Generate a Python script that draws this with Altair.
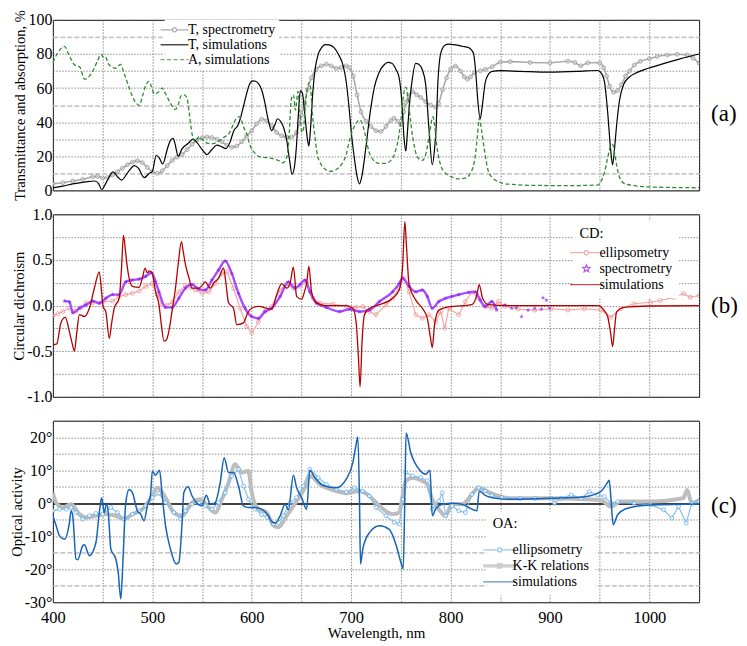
import math
import altair as alt
import pandas as pd

FONT = "Liberation Serif"
W = 648
H_A, H_B, H_C = 171, 183, 182

# ---------------- panel (a): transmittance / absorption, % ----------------
T_SPEC_NM = [400, 410, 420, 430, 440, 445, 450, 455, 460, 465, 470, 475, 480, 485, 490, 495, 500, 505, 510, 515,
             520, 525, 530, 535, 540, 545, 550, 555, 560, 565, 570, 575, 580, 585, 590, 595, 600, 605, 610, 615,
             620, 625, 630, 635, 640, 645, 650, 653, 656, 660, 665, 670, 675, 680, 685, 690, 695, 698, 702, 706,
             710, 715, 720, 725, 730, 735, 740, 743, 747, 750, 753, 755, 758, 762, 766, 770, 775, 780, 785, 788,
             792, 796, 800, 805, 810, 814, 817, 820, 824, 830, 835, 842, 850, 860, 880, 900, 918, 925, 931, 938,
             950, 954, 957, 960, 964, 968, 972, 976, 980, 985, 991, 1000, 1008, 1018, 1028, 1038, 1044, 1050]
T_SPEC = [3.9, 4.5, 5.5, 6.5, 8, 8.2, 7.3, 7.5, 9, 11, 13, 15, 16.5, 17.3, 16.3, 13.5, 11, 10, 11.5, 14.5,
          17.5, 19.5, 21, 24, 27, 29.5, 30.8, 31.3, 31, 30, 28.5, 26.5, 25.3, 26, 28.5, 32, 35, 39, 41.7, 40.8,
          38, 34, 32, 31.3, 31.3, 34, 44, 51, 59, 66, 71, 73, 74, 73, 71.5, 72, 73, 72, 67, 56,
          46, 40.5, 37.5, 35, 34.5, 37.5, 41, 42.3, 40.5, 38.7, 46, 51.5, 55.5, 57.9, 56, 54.5, 52, 50, 48.7, 51,
          59, 66, 71, 72.9, 70, 66.5, 65.2, 66.5, 69, 70.1, 71, 72.5, 75.2, 75.5, 75, 74.8, 75.7, 75, 73, 74.8,
          74.8, 72, 67, 61, 57.5, 58.5, 62, 67, 70, 73.5, 75.7, 77.2, 78.5, 79.3, 79.8, 79.4, 77.5, 74.5]

T_SIM_NM = [400, 410, 420, 433, 442, 446, 449, 454, 460.5, 465, 469, 476, 482, 486, 492, 497, 500, 504, 507, 510.5,
            515, 518, 521, 523, 526, 530, 536, 541, 545, 550, 555, 560, 565, 570, 574, 578, 582, 586, 589, 592,
            595, 598, 601, 604, 607, 610, 613, 616, 620, 623, 626, 629, 632, 635, 638, 640.5, 643, 645, 647, 649,
            651, 653.5, 656, 657.5, 659, 661.5, 664, 667, 670, 674, 678, 683, 687, 691.8, 695, 698, 700, 703, 706, 708.5,
            711, 715, 719, 723.4, 728, 733, 737, 741, 745, 748.3, 751, 753.3, 755, 756.5, 758.3, 761, 765, 768, 771.6, 775,
            778.3, 781.6, 784, 785.5, 787, 790, 794, 798, 805, 812, 818, 823, 825.5, 827.5, 829.8, 832, 834.8, 838, 842, 850,
            870, 900, 930, 948, 952, 955, 958, 961, 963, 965, 967, 970, 974, 980, 985, 995, 1001, 1015, 1030, 1050]
T_SIM = [1.5, 2.5, 3.8, 5, 5.5, 4, 0.5, 5, 10.8, 8, 6, 11, 14.5, 13, 7.5, 10, 11, 20.6, 19, 15.5,
         24, 29, 30.5, 27, 20, 24.5, 27.5, 30, 28, 24, 21, 24, 26.5, 25.5, 24.5, 28, 35, 38, 43, 50,
         57, 62.5, 64.2, 64, 62.5, 59, 52, 43, 35, 38, 42, 40.5, 37, 30, 18, 9.5, 14, 26, 45, 58.5,
         57, 44, 30, 26, 35, 58, 72, 80, 83.5, 85.5, 85.3, 83.5, 80, 73.4, 64, 48, 35, 20, 8, 3.8,
         9, 26, 45, 60.6, 69, 73.5, 75, 74.5, 71, 66, 52, 30, 23, 33, 48, 63, 74.5, 74, 70.7, 62,
         36, 15, 25, 37, 60, 80, 85, 85.7, 85.3, 84.5, 83.8, 80.5, 68, 52, 42, 50, 63, 68, 69.8, 70.2,
         69.8, 69.3, 69.8, 70.3, 68.5, 63, 46, 24, 15, 25, 38, 53, 62, 66.5, 68.4, 70.8, 72, 74.5, 77, 80]

A_SIM_NM = [400, 405, 411.5, 416.5, 421.5, 427, 432, 436, 440, 445, 448.5, 451, 453, 456, 459, 463, 468, 472, 476.5, 480,
            484, 487, 490, 493, 496.5, 499, 502, 506, 510, 513, 517, 521, 523.5, 526, 529, 532, 535, 537, 540, 543,
            547, 551, 555, 559, 563, 567, 570, 574, 577, 581, 585, 588.3, 590, 592, 595, 598.6, 603, 608.6, 615, 622,
            627, 631, 634, 637, 640, 642, 644, 646.5, 648.5, 650.5, 652, 654, 656, 657.8, 659.5, 661, 663.5, 666, 670, 675,
            680, 685, 690, 695, 698.4, 702, 706, 708.4, 711, 714, 718, 722, 728, 734, 740, 744, 748.3, 751, 753, 755,
            757, 759.5, 762, 765, 768, 771.6, 775, 778.3, 782.3, 784, 786, 790, 795, 800, 808, 815, 820, 824.9, 827, 828.8,
            831, 834, 838, 842, 846, 852, 860, 885, 920, 948, 952, 955, 958, 961, 963, 965, 967, 970, 975, 985,
            1000, 1050]
A_SIM = [75, 80.7, 84.4, 79, 73.8, 72.3, 65.2, 66.5, 69.8, 76, 79.8, 78, 78.2, 74, 72.5, 71.6, 73.8, 68, 60.6, 55,
         51, 49.8, 55, 61, 63.9, 61, 56.5, 57.5, 60, 57, 52.5, 48.5, 47.5, 50, 55.5, 56, 54, 46, 33, 28.5,
         31.5, 29.5, 27.7, 27.3, 27.7, 29, 30.4, 31.8, 33.2, 38, 42.6, 43.2, 40.5, 37, 33, 26, 22, 19.6, 19.2, 18.5,
         17.5, 16.2, 17.5, 27, 54, 56, 47, 58, 45, 34, 36, 50, 60, 63.2, 58, 45, 32, 21, 15, 12,
         11.2, 12.2, 14.9, 21, 29.5, 36, 40, 41.4, 39.5, 33, 22.5, 18, 15.8, 15.8, 17.6, 22, 33.2, 46, 57, 60.6,
         55, 42, 31, 22.2, 18.5, 17.6, 21, 31.3, 43.2, 38, 27, 14.9, 10, 8.2, 6.7, 7.2, 10, 20.4, 32, 42.3,
         36, 24, 11.2, 7.5, 5.7, 4.2, 3.6, 2.9, 2.8, 3.1, 6, 11, 19, 26, 27, 22, 15, 7.5, 4, 2.8,
         2, 1.5]

# ---------------- panel (b): circular dichroism ----------------
CD_ELL_NM = [400, 405, 410, 416.7, 423.3, 428, 433.3, 440, 450, 460, 466.7, 473.3, 480, 486.7, 493.3, 500, 505, 510, 515, 520,
             526.7, 533.3, 538, 543.3, 550, 556.7, 563.3, 570, 575, 581.7, 588.3, 595, 600, 606.7, 613.3, 620, 628.6, 635.2, 641.9, 648.5,
             655.2, 661.8, 668.5, 681.8, 695.1, 705, 711.7, 718.4, 725, 735, 741.7, 748.3, 753.3, 758.3, 765, 771.6, 778.3, 785, 790, 794.2,
             798.2, 808.2, 814.9, 821.5, 828.2, 834.8, 841.5, 848.1, 854.8, 868, 884.6, 901.3, 918, 934.6, 951.3, 961, 971, 984.5, 1001, 1011,
             1024.4, 1034.4, 1041, 1050]
CD_ELL = [-0.11, -0.09, -0.066, -0.03, -0.06, -0.02, 0.026, 0.03, 0.044, 0.05, 0.1, 0.12, 0.135, 0.16, 0.21, 0.24, 0.12, 0.007, 0.005, 0.04,
          0.15, 0.22, 0.2, 0.17, 0.135, 0.15, 0.24, 0.35, 0.37, 0.19, -0.03, -0.23, -0.3, -0.18, -0.066, -0.01, 0.17, 0.24, 0.19, 0.21,
          0.26, 0.08, 0.026, 0.015, -0.01, -0.02, -0.01, -0.066, -0.1, 0.007, 0.08, 0.19, 0.3, 0.15, -0.1, -0.14, -0.1, -0.18, -0.066, -0.25,
          -0.03, -0.1, 0.044, 0.15, 0.08, -0.01, -0.03, 0.044, -0.01, -0.04, -0.05, -0.035, -0.05, -0.035, -0.05, -0.13, -0.035, 0.02, 0.035, 0.055,
          0.09, 0.13, 0.09, 0.11]

CD_SPEC_NM = [411.7, 416.7, 420, 426.7, 433.3, 440, 446.7, 453.3, 460, 466.7, 473.3, 480, 486.7, 493.3, 499.3, 503.3, 506.7, 513.3, 520, 526.7,
              533.3, 540, 546.7, 553.3, 560, 566.7, 573.3, 580, 586.7, 593.3, 600, 606.7, 613.3, 620, 628.6, 636.9, 643.5, 648.5, 653.5, 658.5,
              665.2, 675.1, 688.4, 698.4, 708.4, 718.4, 728.4, 741.7, 748.3, 751.7, 758.3, 765, 771.6, 776.6, 781.6, 788.2, 794.9, 801.5, 808.2, 818.2,
              824.9, 829.8, 834.8, 841.5, 846.4, 854.8, 861.4, 866, 871.4, 878, 884.6, 891.3, 893, 896.3, 899.6]
CD_SPEC = [0.05, 0.04, -0.08, -0.03, 0.007, 0.05, 0.025, 0.08, 0.12, 0.12, 0.26, 0.28, 0.29, 0.32, 0.36, 0.26, 0.15, -0.02, -0.02, 0.08,
           0.19, 0.23, 0.18, 0.17, 0.28, 0.39, 0.49, 0.35, 0.135, -0.03, -0.12, -0.14, -0.066, -0.03, 0.1, 0.26, 0.19, 0.23, 0.28, 0.15,
           0.026, -0.02, -0.066, -0.04, -0.066, -0.05, 0.044, 0.15, 0.24, 0.3, 0.21, 0.15, 0.17, 0.1, -0.03, 0.044, 0.08, 0.1, 0.12, 0.145,
           0.15, 0.06, -0.01, 0.044, -0.05, 0.007, -0.03, -0.02, -0.12, -0.05, -0.03, -0.04, 0.085, 0.06, -0.03]
CD_SPEC_DENSE_END = 846.4   # beyond this wavelength the stars are sparse and not joined

CD_SIM_NM = [400, 404, 408, 412.5, 416.5, 419.5, 421.7, 424, 426.7, 431.7, 436.7, 441.7, 446.7, 449, 450.5, 453.3, 456.7, 459, 461.7, 466.7,
             469, 471, 473, 475, 480, 486.7, 490, 492.7, 495, 497, 500, 503.3, 506.7, 509, 511.7, 514, 516.7, 520, 523.3, 526,
             529.3, 531, 533.3, 537, 540, 546.7, 550, 553.3, 558.3, 562, 566.7, 571.7, 574, 576.7, 581.7, 585, 591.7, 596, 600, 606.7,
             620, 625.2, 630.2, 635.2, 638.5, 641.9, 645.2, 650.2, 653, 655.2, 657.5, 660.2, 665.2, 675, 695, 701.7, 705, 707.4, 709, 711,
             713.4, 718.4, 728.4, 741.7, 748.3, 751.7, 754, 755.6, 758.3, 765, 771.6, 776.6, 779.9, 781.6, 783.9, 788.2, 798.2, 821.5, 826.5, 828.8,
             832.2, 838, 858, 948, 955, 958, 961, 963, 965, 967, 974.6, 1000, 1050]
CD_SIM = [-0.43, -0.42, -0.19, -0.13, -0.28, -0.42, -0.5, -0.3, -0.1, -0.12, -0.03, 0.19, 0.37, 0.15, -0.01, -0.07, -0.36, -0.2, -0.03, 0.08,
          0.4, 0.77, 0.6, 0.41, 0.21, 0.2, 0.3, 0.41, 0.36, 0.38, 0.35, 0.15, 0.01, -0.2, -0.39, -0.38, -0.28, -0.05, 0.19, 0.45,
          0.7, 0.6, 0.45, 0.3, 0.19, 0.19, 0.22, 0.26, 0.19, 0.25, 0.3, 0.41, 0.25, 0.03, -0.03, -0.21, -0.19, -0.08, -0.03, -0.01,
          -0.04, 0.12, 0.24, 0.19, 0.24, 0.42, 0.1, 0.07, 0.15, 0.24, 0.43, 0.15, 0.03, 0, 0, -0.03, -0.18, -0.58, -0.89, -0.39,
          -0.1, -0.03, 0.01, 0.08, 0.17, 0.41, 0.92, 0.66, 0.23, 0.06, -0.03, -0.14, -0.36, -0.46, -0.21, -0.05, -0.015, 0.01, 0.12, 0.23,
          0.08, 0.01, 0, 0, -0.06, -0.12, -0.3, -0.45, -0.25, -0.07, -0.02, -0.005, 0]

# ---------------- panel (c): optical activity, degrees ----------------
OA_ELL_NM = [400, 406.7, 413.3, 418.3, 423.3, 430, 436.7, 443.3, 450, 458.3, 465, 471.7, 480, 486.7, 493.3, 500, 506.7, 513.3, 521.7, 528.3,
             533.3, 540, 546.7, 553.3, 560, 566.7, 573.3, 580, 586.7, 591.7, 596.7, 603.3, 610, 615.3, 621.9, 626.9, 631.9, 638.5, 645.2, 651.8,
             658.5, 666.8, 675.1, 685.1, 695.1, 703.4, 711.7, 718.4, 725, 735, 743.3, 748.3, 752.3, 755, 761.6, 770, 776.6, 781.6, 788.2, 791.6,
             795, 801.5, 808.2, 814.9, 821.5, 828.2, 834.8, 841.5, 851.5, 870, 884.6, 901.3, 904.6, 911.3, 921.3, 931.3, 939.6, 948, 954.6, 961.3,
             968, 984.6, 1001, 1014.3, 1022.6, 1029.3, 1037, 1042.6, 1050]
OA_ELL = [-2.3, -1.8, -1.8, -1.3, -2.8, -4.8, -3.8, -3.1, -3.3, -1.3, -2.8, -4.8, -3.3, -2.3, -0.8, 1.7, 3, 0.2, -2.8, -4.8,
          -2.3, -0.3, 0, -0.8, -1.8, 0.2, 3.2, 8.3, 10.3, 5.2, 1.2, -1.8, -3.5, -4.3, -6.3, -5.8, -3.8, 0.2, 1.7, 5.2,
          10.3, 7.8, 5.7, 4.2, 3.4, 4.7, 3.7, 2.2, -1.3, -3.8, -5.8, -6.3, 1.2, 9.3, 8.3, 7.8, 6.8, -1.8, 0.7, 3.2,
          -3.8, -0.8, -2.3, -2.8, 2.7, 4.7, 3.7, 2.4, 1.7, 1.5, 1.5, 1.5, 0, 1.5, 2.5, 1.5, 3.5, 2.5, 2, 0,
          0.5, 0, -0.5, -2, -4.5, -1, -6, 0, 0.5]

KK_NM = [400, 403.3, 410, 418.3, 426.7, 433.3, 443.3, 453.3, 463.3, 471.7, 480, 490, 500, 505, 513.3, 521.7, 530, 540, 548.3, 556.7,
         563.3, 570, 576.7, 583.3, 590, 596.7, 600, 606.7, 615, 621.9, 626.9, 635.2, 645.2, 653.5, 658.5, 668.5, 681.8, 695.1, 708.4, 718.4,
         728.4, 741.7, 748.3, 751.7, 755, 761.6, 771.6, 776.6, 781.6, 788.2, 794.9, 801.5, 811.5, 821.5, 828.2, 838.1, 848.1, 860, 901.3, 951.3,
         961.3, 971, 1001, 1034, 1038, 1042.6, 1050]
KK = [3.2, 0.2, -1.3, -0.3, -3.3, -4.3, -3.8, -3.3, -3.8, -4.8, -3.3, -1.8, 2.2, 4.7, 1.7, -2.8, -3.8, 0.2, 1.2, -1.3,
      -2.8, 1.2, 6.2, 11.8, 9.3, 9.8, 3.2, -1.8, -2.8, -6.8, -7.3, -3.8, 0.7, 4.7, 8.3, 5.7, 4, 3, 3.7, 2.2,
      -0.8, -3.3, -2.8, 2.2, 6.7, 7.7, 6.7, 5.7, 1.2, -1.8, -3.8, -0.3, -0.3, 2.7, 4.7, 3.4, 2.2, 1.5, 1.5, 1,
      -1, 0.5, 0.5, 1.5, 4, 0, 1]

OA_SIM_NM = [400, 403.3, 406.7, 411.7, 416.7, 418.3, 420, 423.3, 425, 430, 431.7, 436.7, 443.3, 446.7, 449, 451.7, 454, 456, 458.3, 463.3,
             465.7, 468.3, 470.7, 473.3, 476.7, 480, 485, 488.3, 491.7, 495, 498.3, 500, 503.3, 507.3, 510, 513.3, 518.3, 524, 526.7, 530,
             531.7, 536, 540, 545, 550, 554.3, 558.3, 563.3, 568.3, 572.3, 576.7, 581.7, 586.7, 591.7, 596.7, 603.3, 610, 616.7, 620, 623.6,
             628.6, 633.6, 636.9, 641.9, 645.2, 650.2, 655.2, 658.5, 663.5, 671.8, 685.1, 695.1, 701.7, 705, 706.7, 708.4, 709.4, 711.7, 718.4, 728.4,
             738.3, 745, 750, 752.3, 754, 755.3, 760, 768.3, 775, 779.3, 781.6, 785, 791.6, 801.5, 811.5, 818.2, 826.5, 828.8, 834.8, 848.1,
             858, 901, 935, 951, 957.3, 959.6, 961.3, 963.6, 968, 978, 1001, 1050]
OA_SIM = [-3.8, -6.8, -9.9, -10.9, -5.8, -2.3, -3.8, -16.9, -17.1, -12.9, -12.6, -15.9, -11.9, -2.8, 1.7, -2.8, 0, -3.8, -13.9, -16.9,
          -20.9, -29, -15.9, 0.2, 4.2, 3.2, -2.3, -3.3, -5.3, -0.8, 2.7, 9.8, 8.5, 10, 2.2, -6.8, -13.9, -18.4, -17.9, -5.8,
          3.2, 5, 2.2, 0, -0.8, 2.4, -0.3, 0.2, 6.2, 13.8, 9.3, 9.3, 5.2, -0.8, -1.3, -1.3, -1.8, -3.8, -5.5, -6,
          -3.8, -0.3, -2, 8.5, 4.7, 1.7, -1.8, 10, 7.8, 5.4, 4.7, 7.3, 12.3, 17.8, 20.1, 1.2, -18.4, -13.9, -8.9, -6.8,
          -7.9, -12.4, -17.9, -19.9, 1.2, 21.3, 15.3, 10.3, 8.8, 10, -3.8, -1.8, -0.3, 0, -0.3, -1.3, -2.3, 3.7, 2.4, 1.4,
          1.2, 1.5, 2, 3.5, 6, 7, 1.5, -6.5, -3.5, -1.5, -0.5, -0.2]

# ---------------- tick values / legend entries ----------------
X_GRID = list(range(400, 1051, 50))
Y_GRID_A = list(range(0, 101, 10))
Y_GRID_B = [-1, -0.75, -0.5, -0.25, 0, 0.25, 0.5, 0.75, 1]
Y_GRID_C = list(range(-30, 26, 5))

LEG_A = ["T, spectrometry", "T, simulations", "A, simulations"]
LEG_B = ["ellipsometry", "spectrometry", "simulations"]
LEG_C = ["ellipsometry", "K-K relations", "simulations"]
NB = "\u00a0"
EM = "\u2003"


def star_path(r1, r2):
    pts = []
    for i in range(10):
        a = -math.pi / 2 + i * math.pi / 5
        r = r1 if i % 2 == 0 else r2
        pts.append(f"{r * math.cos(a):.3f},{r * math.sin(a):.3f}")
    return "M" + "L".join(pts) + "Z"


CIRC = "M0.42,0A0.42,0.42,0,1,1,-0.42,0A0.42,0.42,0,1,1,0.42,0"
STAR_PLOT = star_path(1.0, 0.45)
STAR_LEG = star_path(0.75, 0.33)
LINE28 = "M-2.8,0H2.8"
LINE28_C = "M-2.8,0H-0.42M0.42,0H2.8" + CIRC
LINE33 = "M-3.3,0H3.3"
LINE33_C = "M-3.3,0H-0.42M0.42,0H3.3" + CIRC
LINE33_SQ = "M-3.3,-0.2H3.3M-3.3,0H3.3M-3.3,0.2H3.3M-0.45,-0.45H0.45V0.45H-0.45Z"

GRID_DARK = "#6e6e6e"
GRID_LIGHT = "#c8c8c8"
DOT = [1.5, 1.5]


def frame(nm, v):
    return pd.DataFrame({"nm": nm, "v": v})


X_SCALE = alt.Scale(domain=[400, 1050], nice=False, zero=False)


def x_enc(show):
    if show:
        ax = alt.Axis(values=X_GRID, labelExpr="datum.value % 100 == 0 ? '' + datum.value : ''",
                      labelFlush=False, labelOverlap=False, labelFontSize=16.5, labelPadding=7,
                      titleFontSize=15, titlePadding=0, gridColor=GRID_DARK, gridDash=DOT, gridWidth=0.8)
        return alt.X("nm:Q", scale=X_SCALE, axis=ax, title="Wavelength, nm")
    ax = alt.Axis(values=X_GRID, labels=False, gridColor=GRID_DARK, gridDash=DOT, gridWidth=0.8)
    return alt.X("nm:Q", scale=X_SCALE, axis=ax, title=None)


def cond(test, a, b):
    return {"condition": {"test": test, "value": a}, "value": b}


Y_A = alt.Y("v:Q", scale=alt.Scale(domain=[0, 100], nice=False, zero=False),
            title="Transmittance and absorption, %",
            axis=alt.Axis(values=Y_GRID_A, labelExpr="datum.value % 20 == 0 ? '' + datum.value : ''",
                          labelOverlap=False, labelPadding=1, titlePadding=0,
                          gridColor=cond("datum.value % 40 == 10", GRID_LIGHT, GRID_DARK),
                          gridDash=cond("datum.value % 40 == 10", [5, 2], DOT),
                          gridWidth=cond("datum.value % 40 == 10", 1.8, 0.8)))

Y_B = alt.Y("v:Q", scale=alt.Scale(domain=[-1, 1], nice=False, zero=False),
            title="Circular dichroism",
            axis=alt.Axis(values=Y_GRID_B,
                          labelExpr="(datum.value * 2) % 1 == 0 ? replace(format(datum.value, '.1f'), '\u2212', '-') : ''",
                          labelOverlap=False, labelPadding=1, titlePadding=0,
                          gridColor=GRID_DARK, gridDash=DOT, gridWidth=0.8))

LIGHT_C = "datum.value == -15 || datum.value == -25"
Y_C = alt.Y("v:Q", scale=alt.Scale(domain=[-30, 25], nice=False, zero=False),
            title="Optical activity",
            axis=alt.Axis(values=Y_GRID_C,
                          labelExpr="datum.value % 10 == 0 ? datum.value + '\u00b0' : ''",
                          labelOverlap=False, labelPadding=1, titlePadding=0,
                          gridColor={"condition": [{"test": "datum.value == 0", "value": "#000000"},
                                                   {"test": LIGHT_C, "value": GRID_LIGHT}], "value": GRID_DARK},
                          gridDash={"condition": [{"test": "datum.value == 0", "value": [1, 0]},
                                                  {"test": LIGHT_C, "value": [5, 2]}], "value": DOT},
                          gridWidth={"condition": [{"test": "datum.value == 0", "value": 1.4},
                                                   {"test": LIGHT_C, "value": 1.8}], "value": 0.8}))


def line(nm, v, xe, ye, color, width, dash=None, interp="monotone", upto=None):
    kw = dict(color=color, strokeWidth=width, clip=True, interpolate=interp)
    if dash:
        kw["strokeDash"] = dash
    ch = alt.Chart(frame(nm, v)).mark_line(**kw).encode(x=xe, y=ye)
    if upto is not None:
        ch = ch.transform_filter(alt.datum.nm <= upto)
    return ch


def points(nm, v, xe, ye, **kw):
    return alt.Chart(frame(nm, v)).mark_point(clip=True, **kw).encode(x=xe, y=ye)


def legend_layer(names, colors, shapes, dashes, title, lx, ly, tpad, loff, pad=6, rowpad=2):
    leg = dict(orient="none", legendX=lx, legendY=ly, fillColor="white", padding=pad,
               labelFont=FONT, labelFontSize=14, labelOffset=loff, symbolSize=100,
               symbolStrokeWidth=1.3, symbolFillColor="white", rowPadding=rowpad, labelLimit=400)
    if title:
        leg.update(title=title, titleFont=FONT, titleFontSize=14.5, titleFontWeight="normal",
                   titleAnchor="start", titlePadding=tpad, titleLimit=400)
    else:
        leg["title"] = None
    L = alt.Legend(**leg)
    src = pd.DataFrame({"series": names})
    return alt.Chart(src).mark_point(filled=False).encode(
        color=alt.Color("series:N", scale=alt.Scale(domain=names, range=colors), legend=L),
        shape=alt.Shape("series:N", scale=alt.Scale(domain=names, range=shapes), legend=L),
        strokeDash=alt.StrokeDash("series:N", scale=alt.Scale(domain=names, range=dashes), legend=L),
    ).transform_filter("false")


def tag(text, h, frac):
    return alt.Chart(pd.DataFrame({"t": [text]})).mark_text(
        font=FONT, fontSize=23, align="left", baseline="middle", color="black"
    ).encode(text="t:N", x=alt.value(W + 12), y=alt.value(h * frac))


# panel (a)
xa = x_enc(False)
panel_a = alt.layer(
    line(T_SPEC_NM, T_SPEC, xa, Y_A, "#ababab", 1.6),
    points(T_SPEC_NM, T_SPEC, xa, Y_A, shape="circle", size=16, filled=True, fill="#d6d6d6",
           stroke="#8c8c8c", strokeWidth=0.9),
    line(T_SIM_NM, T_SIM, xa, Y_A, "#000000", 1.2),
    line(A_SIM_NM, A_SIM, xa, Y_A, "#2e8b2e", 1.3, dash=[4, 2.5]),
    legend_layer(LEG_A, ["#8c8c8c", "#000000", "#2e8b2e"], [LINE28_C, LINE28, LINE28],
                 [[1, 0], [1, 0], [4, 2.5]], None, 112, 0, 1, 6.5, pad=3, rowpad=1),
    tag("(a)", H_A, 0.55),
).properties(width=W, height=H_A)

# panel (b)
xb = x_enc(False)
panel_b = alt.layer(
    line(CD_ELL_NM, CD_ELL, xb, Y_B, "#f4a6a6", 1.2, interp="linear"),
    points(CD_ELL_NM, CD_ELL, xb, Y_B, shape="circle", size=16, filled=False, color="#f08c8c", strokeWidth=1),
    line(CD_SPEC_NM, CD_SPEC, xb, Y_B, "#a64dff", 2.4, upto=CD_SPEC_DENSE_END),
    points(CD_SPEC_NM, CD_SPEC, xb, Y_B, shape=STAR_PLOT, size=22, filled=True, color="#8f1ff0"),
    line(CD_SIM_NM, CD_SIM, xb, Y_B, "#b40000", 1.3),
    legend_layer(LEG_B, ["#f08c8c", "#8f1ff0", "#b40000"], [LINE33_C, STAR_LEG, LINE33],
                 [[1, 0], [1, 0], [1, 0]], NB * 7 + "CD:", 522, 7, 4, 6),
    tag("(b)", H_B, 0.5),
).properties(width=W, height=H_B)

# panel (c)
xc = x_enc(True)
panel_c = alt.layer(
    line(KK_NM, KK, xc, Y_C, "#bdbdbd", 4),
    line(OA_ELL_NM, OA_ELL, xc, Y_C, "#86c1ef", 1.2, interp="linear"),
    points(OA_ELL_NM, OA_ELL, xc, Y_C, shape="circle", size=16, filled=True, fill="white",
           stroke="#5aa9e6", strokeWidth=1),
    line(OA_SIM_NM, OA_SIM, xc, Y_C, "#1763b8", 1.5),
    legend_layer(LEG_C, ["#6db3ea", "#b9b9b9", "#1763b8"], [LINE33_C, LINE33_SQ, LINE33],
                 [[1, 0], [1, 0], [1, 0]], EM + NB + "OA:", 435, 91, 11, 6),
    tag("(c)", H_C, 0.47),
).properties(width=W, height=H_C)

chart = alt.vconcat(panel_a, panel_b, panel_c, spacing=24, bounds="flush").resolve_scale(
    color="independent", shape="independent", strokeDash="independent"
).properties(padding={"left": 0, "top": 0, "right": 0, "bottom": 0}).configure_view(
    stroke="black", strokeWidth=1
).configure_axis(
    domain=False, ticks=False, labelFont=FONT, titleFont=FONT, labelColor="black", titleColor="black",
    titleFontWeight="normal", labelFontSize=16, titleFontSize=14.5
)

chart.save("out.html", embed_options={"renderer": "svg", "actions": False})
